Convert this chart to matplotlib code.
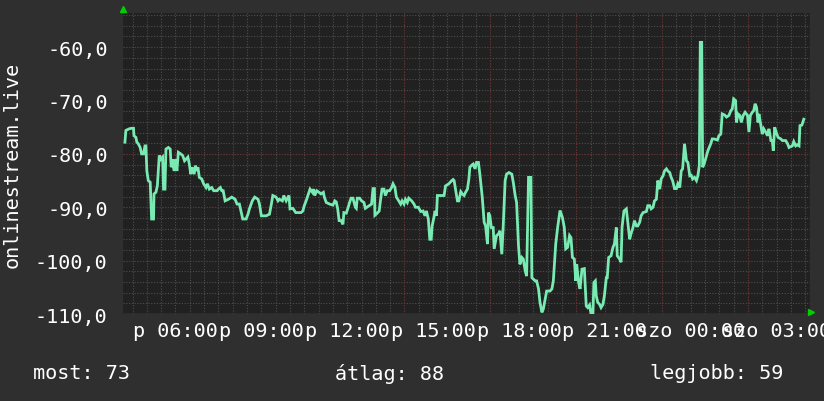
import matplotlib
matplotlib.use("Agg")
import matplotlib.pyplot as plt
import matplotlib.transforms as mtransforms

# minutes since graph start (04:10), and signal value
minutes = [
    4, 6, 13, 18, 22, 23, 27, 29, 32, 36, 39, 43, 46, 48, 50, 53, 57, 60, 64, 65,
    69, 72, 76, 79, 83, 85, 88, 90, 95, 99, 101, 104, 107, 110, 113, 116, 121, 125, 129, 132,
    136, 139, 142, 145, 149, 152, 155, 157, 160, 165, 169, 174, 177, 181, 186, 190, 197, 200, 204, 207,
    210, 214, 221, 228, 235, 239, 244, 248, 251, 258, 262, 265, 271, 276, 283, 286, 290, 300, 307, 311,
    314, 321, 325, 328, 334, 337, 342, 346, 348, 350, 356, 362, 373, 377, 380, 385, 392, 397, 399, 402,
    406, 411, 415, 420, 422, 426, 433, 440, 444, 447, 450, 453, 457, 461, 463, 468, 471, 475, 478, 482,
    487, 489, 491, 496, 500, 505, 508, 516, 521, 524, 527, 528, 533, 537, 540, 543, 547, 550, 554, 559,
    563, 566, 570, 573, 578, 582, 585, 589, 592, 596, 599, 605, 610, 613, 619, 624, 629, 633, 636, 640,
    643, 646, 648, 651, 654, 657, 659, 673, 676, 683, 689, 692, 694, 697, 701, 704, 708, 711, 715, 718,
    722, 725, 727, 731, 734, 738, 741, 745, 748, 753, 757, 760, 764, 766, 769, 772, 776, 778, 783, 787,
    790, 794, 797, 801, 804, 809, 815, 818, 822, 825, 829, 832, 836, 839, 843, 846, 850, 855, 857, 864,
    867, 871, 874, 878, 881, 885, 888, 895, 899, 902, 907, 911, 916, 921, 925, 928, 932, 936, 939, 942,
    946, 949, 951, 955, 958, 962, 967, 971, 974, 978, 981, 985, 987, 990, 992, 995, 999, 1002, 1006, 1009,
    1013, 1015, 1018, 1023, 1027, 1030, 1034, 1036, 1041, 1044, 1046, 1050, 1055, 1058, 1062, 1065, 1069, 1072, 1076, 1079,
    1083, 1086, 1090, 1097, 1100, 1104, 1107, 1111, 1114, 1118, 1121, 1125, 1128, 1132, 1135, 1139, 1142, 1146, 1149, 1152,
    1156, 1160, 1163, 1167, 1170, 1173, 1177, 1181, 1184, 1188, 1191, 1194, 1198, 1202, 1205, 1208, 1210, 1213, 1215, 1218,
    1221, 1226, 1232, 1235, 1239, 1246, 1249, 1253, 1256, 1261, 1265, 1270, 1274, 1277, 1280, 1284, 1286, 1289, 1293, 1296,
    1300, 1304, 1309, 1312, 1315, 1319, 1322, 1325, 1328, 1331, 1333, 1337, 1340, 1343, 1347, 1351, 1354, 1358, 1361, 1363,
    1366, 1369, 1373, 1379, 1382, 1389, 1393, 1396, 1403, 1406, 1410, 1413, 1417, 1419, 1423, 1427,
]
values = [
    -77.8, -75.6, -75.3, -75.2, -75.2, -76.6, -76.9, -77.8, -78.1, -78.8, -80.0, -80.0, -78.5, -78.5, -83.2, -85.0, -85.3, -92.2, -92.2, -87.5,
    -87.2, -86.0, -80.3, -81.0, -80.6, -86.6, -86.6, -79.1, -78.8, -79.1, -82.5, -81.0, -83.2, -81.0, -83.2, -79.7, -80.0, -80.3, -81.3, -81.0,
    -80.6, -81.9, -83.8, -82.5, -83.8, -82.2, -83.2, -82.5, -84.4, -84.7, -85.6, -86.3, -85.6, -86.6, -86.3, -86.9, -86.9, -86.6, -86.3, -86.9,
    -86.9, -88.8, -88.5, -88.1, -88.5, -89.4, -89.4, -91.0, -92.2, -92.2, -91.3, -90.3, -88.8, -88.1, -88.5, -89.4, -91.6, -91.6, -91.3, -89.4,
    -87.8, -88.1, -88.8, -88.5, -88.8, -87.8, -88.8, -88.1, -87.8, -90.3, -90.2, -91.0, -91.0, -90.7, -89.7, -88.5, -86.6, -87.2, -86.6, -87.8,
    -86.9, -87.2, -87.5, -87.2, -88.1, -89.1, -89.4, -89.6, -88.8, -89.0, -90.3, -92.5, -92.5, -93.2, -91.0, -91.1, -90.3, -89.1, -88.3, -88.3,
    -90.0, -90.2, -88.3, -88.3, -88.8, -89.1, -90.2, -89.7, -89.4, -86.5, -86.5, -91.5, -91.1, -90.7, -88.5, -86.6, -86.6, -87.8, -86.9, -86.9,
    -86.3, -85.6, -86.3, -88.1, -88.8, -89.4, -88.8, -89.4, -88.5, -89.1, -88.3, -88.8, -89.4, -90.0, -90.0, -90.8, -90.7, -91.6, -90.7, -92.2,
    -96.0, -96.0, -93.5, -92.2, -90.7, -91.6, -87.8, -87.8, -86.0, -85.6, -85.0, -84.8, -85.0, -86.6, -88.8, -88.8, -87.1, -87.5, -87.8, -87.2,
    -86.6, -84.7, -82.5, -82.1, -81.9, -82.8, -81.6, -81.6, -83.8, -88.1, -92.8, -93.5, -96.9, -91.0, -91.6, -93.8, -93.8, -97.8, -95.3, -95.0,
    -94.4, -98.8, -93.5, -85.0, -83.8, -83.5, -83.8, -85.3, -87.8, -89.1, -97.2, -100.7, -99.4, -99.7, -101.9, -102.9, -84.4, -84.4, -103.2, -103.8,
    -103.8, -105.3, -107.8, -109.7, -109.1, -107.2, -105.7, -105.7, -105.3, -103.8, -96.9, -93.8, -90.6, -91.9, -93.8, -97.8, -97.5, -95.3, -95.7, -99.4,
    -99.7, -103.8, -100.7, -104.1, -105.3, -101.6, -101.5, -108.5, -108.8, -108.3, -110.0, -110.0, -104.1, -103.8, -106.6, -107.8, -108.2, -108.8, -108.2, -106.6,
    -103.2, -103.2, -99.4, -99.1, -97.5, -96.9, -93.8, -99.1, -99.7, -100.3, -93.8, -90.7, -90.3, -92.8, -96.0, -94.9, -93.8, -92.5, -93.5, -93.5,
    -92.8, -91.6, -91.0, -90.8, -89.7, -89.7, -90.3, -90.0, -88.8, -88.5, -85.0, -86.6, -84.7, -84.1, -83.2, -82.8, -83.2, -83.5, -84.4, -85.0,
    -86.5, -86.5, -85.6, -86.3, -83.2, -82.8, -78.1, -81.3, -81.6, -84.1, -84.0, -84.7, -84.4, -85.0, -84.1, -82.2, -59.1, -59.1, -82.5, -81.9,
    -81.0, -79.4, -78.1, -77.2, -77.2, -77.4, -76.6, -76.3, -72.5, -72.7, -73.1, -72.8, -71.9, -71.6, -69.7, -70.0, -74.1, -72.5, -72.8, -74.1,
    -72.8, -72.2, -72.8, -75.9, -72.8, -72.2, -71.9, -70.6, -71.3, -74.1, -72.5, -74.7, -76.3, -75.3, -75.9, -76.6, -75.3, -77.5, -77.5, -79.4,
    -75.0, -75.9, -76.9, -77.2, -77.5, -77.5, -78.1, -78.8, -78.5, -77.7, -78.5, -78.3, -78.5, -74.7, -74.6, -73.5,
]

# x labels (minutes since start) and their text
label_minutes = [110, 290, 470, 650, 830, 1010, 1190, 1370]
label_texts = ["p 06:00", "p 09:00", "p 12:00", "p 15:00", "p 18:00",
               "p 21:00", "szo 00:00", "szo 03:00"]
y_ticks = [-110, -100, -90, -80, -70, -60]
y_tick_texts = ["-110,0", "-100,0", "-90,0", "-80,0", "-70,0", "-60,0"]

legend_names = ["most", "átlag", "legjobb"]
legend_values = [73, 88, 59]

BG = "#2f2f2f"
CANVAS = "#212121"
LINE = "#78eab2"
MINOR = "#4e4e4e"
MAJOR = "#6a2c2c"
FONT = "DejaVu Sans Mono"

plt.rcParams["font.family"] = FONT

fig = plt.figure(figsize=(8.24, 4.02), dpi=100, facecolor=BG)
ax = fig.add_axes([123 / 824, 87 / 402, 687 / 824, 301 / 402])
ax.set_facecolor(CANVAS)
ax.set_xlim(0, 1440)
ax.set_ylim(-110, -53.6)

#Grid lines, drawn by hand so they don't need to match the label positions
dots = (0, (1, 1.5))
for y in range(-110, -53, 2):
    ax.axhline(y, color=MINOR, lw=0.8, ls=dots, zorder=1)
for y in y_ticks:
    ax.axhline(y, color=MAJOR, lw=0.8, ls=dots, zorder=1)
for x in range(20, 1440, 30):
    ax.axvline(x, color=MINOR, lw=0.8, ls=dots, zorder=1)
for x in range(50, 1440, 180):
    ax.axvline(x, color=MAJOR, lw=0.8, ls=dots, zorder=1)

ax.plot(minutes, values, color=LINE, lw=2.0, zorder=3, solid_joinstyle="miter")

for s in ax.spines.values():
    s.set_visible(False)
ax.axhline(-110, color="#555555", lw=1.0, zorder=2)

ax.set_xticks(label_minutes)
ax.set_xticklabels(label_texts)
ax.set_yticks(y_ticks)
ax.set_yticklabels(y_tick_texts)
ax.tick_params(axis="both", length=0, colors="white", labelsize=14.5)
ax.tick_params(axis="x", pad=5)
ax.tick_params(axis="y", pad=11)
for lbl in ax.get_xticklabels():
    lbl.set_clip_on(False)
ax.set_ylabel("onlinestream.live", color="white", fontsize=14.5)
ax.yaxis.set_label_coords(-101 / 687, 0.5)

#Green arrows at the ends of the axes
up = mtransforms.offset_copy(ax.transAxes, fig=fig, x=0, y=3, units="points")
ax.plot([0.0], [1.0], marker="^", color="#00d000", markersize=4, transform=up, clip_on=False)
right = mtransforms.offset_copy(ax.transAxes, fig=fig, x=1, y=0, units="points")
ax.plot([1.0], [0.007], marker=">", color="#00d000", markersize=4, transform=right, clip_on=False)

#Legend line at the bottom
legend_x = [33, 335, 650]
for name, val, lx in zip(legend_names, legend_values, legend_x):
    fig.text(lx / 824, 1 - 374 / 402, "{}: {}".format(name, val), color="white",
             fontsize=14.5, va="center", ha="left")

fig.savefig("out.png", dpi=100, facecolor=BG)
